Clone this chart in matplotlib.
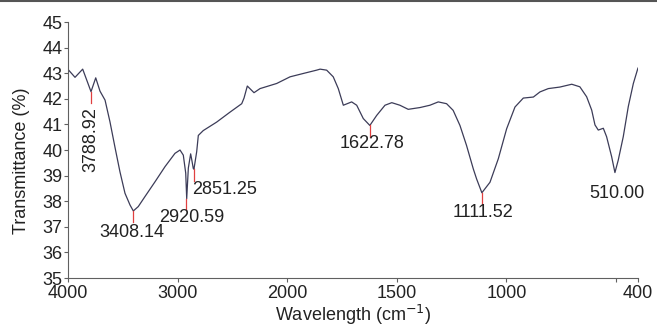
import numpy as np
import matplotlib
matplotlib.use("Agg")
import matplotlib.pyplot as plt
from matplotlib.lines import Line2D

plt.rcParams['font.family'] = ['Liberation Sans', 'DejaVu Sans']

# FTIR spectrum (wavenumber cm-1, transmittance %)
wavenumber = [4000, 3936, 3866, 3790, 3747, 3708, 3662, 3617, 3571, 3526,
              3480, 3434, 3404, 3359, 3298, 3206, 3115, 3024, 2978, 2948,
              2926, 2917, 2902, 2881, 2870, 2857, 2851, 2826, 2811, 2766,
              2644, 2522, 2415, 2394, 2364, 2303, 2248, 2096, 1987, 1927,
              1866, 1850, 1820, 1790, 1767, 1744, 1706, 1683, 1653, 1623,
              1592, 1554, 1523, 1486, 1448, 1394, 1349, 1311, 1273, 1243,
              1212, 1182, 1151, 1136, 1112, 1075, 1037, 999, 961, 923,
              877, 847, 809, 756, 702, 665, 634, 611, 596, 581,
              558, 543, 520, 505, 490, 467, 444, 421, 400]
transmittance = [43.15, 42.84, 43.16, 42.28, 42.82, 42.3, 41.95, 41.1, 40.1, 39.15,
                 38.31, 37.85, 37.62, 37.79, 38.18, 38.76, 39.35, 39.87, 40.0, 39.8,
                 39.1, 38.1, 39.3, 39.85, 39.6, 39.28, 39.25, 39.93, 40.57, 40.76,
                 41.09, 41.48, 41.81, 42.03, 42.5, 42.24, 42.4, 42.6, 42.86, 42.99,
                 43.12, 43.16, 43.12, 42.86, 42.4, 41.75, 41.88, 41.75, 41.23, 40.96,
                 41.35, 41.75, 41.85, 41.75, 41.59, 41.66, 41.75, 41.88, 41.81, 41.55,
                 40.96, 40.18, 39.26, 38.87, 38.33, 38.74, 39.66, 40.83, 41.68, 42.03,
                 42.07, 42.27, 42.4, 42.46, 42.57, 42.47, 42.08, 41.56, 40.98, 40.78,
                 40.85, 40.52, 39.74, 39.12, 39.6, 40.52, 41.7, 42.6, 43.2]

# labelled peaks: position, band minimum, label centre (x, y)
peak_pos = [3788.92, 3408.14, 2920.59, 2851.25, 1622.78, 1111.52, 510.00]
peak_val = [42.28, 37.62, 38.1, 39.25, 40.96, 38.33, 39.12]
label_x = [3790, 3419, 2872, 2872, 1615, 1107, 496]
label_y = [40.39, 36.76, 37.38, 38.44, 40.27, 37.54, 38.32]
has_marker = [True, True, True, True, True, True, False]


def fwd(x):
    x = np.asarray(x, dtype=float)
    return np.where(x >= 2000, x, 2 * x - 2000)


def inv(u):
    u = np.asarray(u, dtype=float)
    return np.where(u >= 2000, u, (u + 2000) / 2)


fig = plt.figure(figsize=(6.57, 3.29), dpi=100)
ax = fig.add_axes([0.1035, 0.155, 0.8675, 0.778])
ax.set_xscale('function', functions=(fwd, inv))

ax.plot(wavenumber, transmittance, color='#3c3c58', lw=0.9)

ax.set_xlim(4000, 400)
ax.set_ylim(35, 45)
ax.set_yticks(range(35, 46))
ax.set_xticks([4000, 3000, 2000, 1500, 1000, 500, 400])
ax.set_xticklabels(['4000', '3000', '2000', '1500', '1000', '', '400'])

for s in ['top', 'right']:
    ax.spines[s].set_visible(False)
for s in ['left', 'bottom']:
    ax.spines[s].set_color('#606060')
    ax.spines[s].set_linewidth(0.8)
ax.tick_params(direction='out', length=3, width=0.8, color='#606060',
               labelsize=13, pad=1, labelcolor='#222222')
ax.tick_params(axis='x', pad=2)

ax.set_xlabel('Wavelength (cm$^{-1}$)', fontsize=13, labelpad=1, color='#222222')
ax.set_ylabel('Transmittance (%)', fontsize=13, color='#222222')
ax.yaxis.set_label_coords(-0.067, 0.46)

red = '#e04040'
for i in range(len(peak_pos)):
    p, v = peak_pos[i], peak_val[i]
    if has_marker[i]:
        ax.plot([p, p], [v, v - 0.45], color=red, lw=0.9)
    rot = 90 if i == 0 else 0
    ha = 'left' if i == 3 else 'center'
    ax.text(label_x[i], label_y[i], f'{p:.2f}', rotation=rot, ha=ha,
            va='center', fontsize=13, color='#222222')

# thin grey frame line along the top edge
fig.add_artist(Line2D([0, 1], [0.998, 0.998], transform=fig.transFigure,
                      color='#555555', lw=1.5))

fig.savefig('out.png', dpi=100)
